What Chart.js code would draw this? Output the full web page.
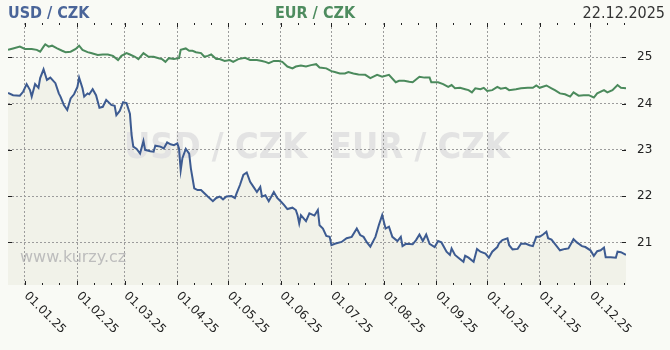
<!DOCTYPE html>
<html>
<head>
<meta charset="utf-8">
<script src="https://cdn.jsdelivr.net/npm/chart.js@4.4.0/dist/chart.umd.min.js"></script>
<style>
body{margin:0;background:#f9faf5;}
canvas{display:block;}
</style>
</head>
<body>
<canvas id="chart" width="670" height="350"></canvas>
<script>
// days counted from 1.1.2025
var usdDays = [-10,-7,-3,-1,1,3,4,6,8,9,
	11,13,15,18,20,21,23,25,27,29,
	31,32,34,35,37,38,40,42,44,46,
	48,51,53,54,56,58,60,62,63,64,
	66,68,70,71,74,76,77,80,82,84,
	86,88,90,91,92,93,95,97,98,100,
	102,104,106,108,111,113,115,117,119,122,
	124,125,127,129,131,133,135,137,139,140,
	142,144,147,149,151,153,155,158,160,161,
	162,163,166,168,171,173,174,176,178,180,
	181,183,187,190,193,196,198,200,202,204,
	206,207,209,211,213,215,217,220,222,223,
	225,229,231,233,234,235,237,239,242,244,
	246,249,251,252,254,256,259,260,262,265,
	267,269,272,274,276,279,280,282,285,286,
	288,291,293,296,298,300,302,304,306,308,
	309,311,313,316,319,321,324,326,329,331,
	334,336,338,340,342,343,346,349,350,352,
	355];
var usdRates = [24.23,24.18,24.17,24.26,24.42,24.29,24.15,24.42,24.34,24.55,
	24.74,24.51,24.56,24.44,24.22,24.15,23.97,23.86,24.11,24.20,
	24.36,24.56,24.33,24.15,24.22,24.20,24.31,24.18,23.91,23.93,
	24.08,23.97,23.95,23.75,23.84,24.03,24.01,23.78,23.32,23.07,
	23.02,22.92,23.19,23.00,22.97,22.96,23.09,23.07,23.03,23.16,
	23.12,23.10,23.14,23.03,22.56,22.82,23.02,22.92,22.60,22.17,
	22.13,22.13,22.06,21.99,21.89,21.96,21.99,21.93,21.99,22.00,
	21.96,22.06,22.24,22.46,22.51,22.31,22.20,22.09,22.20,21.99,
	22.02,21.89,22.09,21.96,21.89,21.81,21.72,21.75,21.70,21.59,
	21.41,21.59,21.46,21.63,21.58,21.70,21.37,21.30,21.14,21.12,
	20.94,20.97,21.01,21.09,21.12,21.30,21.16,21.12,21.00,20.91,
	21.05,21.12,21.37,21.59,21.30,21.34,21.12,21.03,21.12,20.92,
	20.97,20.96,21.05,21.17,21.10,21.03,21.17,20.97,20.90,21.03,
	21.00,20.80,20.73,20.87,20.73,20.67,20.58,20.71,20.67,20.58,
	20.86,20.80,20.76,20.67,20.80,20.90,20.98,21.05,21.09,20.94,
	20.85,20.86,20.97,20.97,20.94,20.92,21.12,21.12,21.17,21.23,
	21.09,21.06,20.97,20.83,20.86,20.87,21.07,21.00,20.92,20.90,
	20.83,20.71,20.81,20.83,20.89,20.68,20.68,20.67,20.80,20.79,
	20.73];

var eurDays = [-10,-7,-3,0,4,7,9,11,12,14,
	16,19,22,24,27,30,32,34,37,39,
	43,46,49,52,55,57,60,62,65,67,
	70,73,76,79,81,83,85,88,91,92,
	95,97,99,101,104,106,108,110,113,115,
	118,121,123,126,130,133,137,140,142,144,
	147,150,152,155,158,160,163,166,169,172,
	174,178,181,183,186,189,191,194,197,201,
	204,208,211,215,219,221,224,227,229,233,
	236,239,240,244,247,250,252,254,257,260,
	262,264,266,269,271,273,276,279,281,284,
	286,290,293,297,300,302,304,308,311,313,
	316,319,322,324,327,330,333,336,338,342,
	344,347,350,352,355];
var eurRates = [25.16,25.19,25.23,25.18,25.18,25.16,25.12,25.23,25.28,25.23,
	25.25,25.19,25.14,25.11,25.12,25.18,25.25,25.16,25.11,25.09,
	25.05,25.06,25.06,25.03,24.94,25.03,25.09,25.06,25.01,24.96,
	25.09,25.01,25.01,24.98,24.96,24.90,24.98,24.96,24.98,25.16,
	25.19,25.14,25.14,25.11,25.09,25.01,25.03,25.06,24.96,24.96,
	24.92,24.94,24.90,24.96,24.99,24.94,24.94,24.92,24.90,24.87,
	24.92,24.92,24.90,24.80,24.76,24.80,24.82,24.80,24.83,24.85,
	24.78,24.76,24.70,24.68,24.65,24.65,24.68,24.65,24.63,24.62,
	24.55,24.62,24.58,24.62,24.46,24.49,24.49,24.47,24.46,24.58,
	24.56,24.56,24.46,24.46,24.42,24.36,24.40,24.33,24.34,24.31,
	24.29,24.24,24.33,24.31,24.34,24.27,24.29,24.36,24.32,24.34,
	24.29,24.31,24.33,24.34,24.34,24.39,24.34,24.39,24.33,24.29,
	24.22,24.20,24.15,24.24,24.17,24.18,24.18,24.13,24.22,24.29,
	24.24,24.29,24.40,24.34,24.33];

var monthDays = [0,31,59,90,120,151,181,212,243,273,304,334];
var monthLabels = ['01.01.25','01.02.25','01.03.25','01.04.25','01.05.25','01.06.25',
	'01.07.25','01.08.25','01.09.25','01.10.25','01.11.25','01.12.25'];
var yTicks = [21,22,23,24,25];
var dateText = '22.12.2025';
var watermark = 'USD / CZK  EUR / CZK';

function toPoints(days, rates){
	var out = [];
	for(var i in days){
		out.push({x: days[i], y: rates[i]});
	}
	return out;
}

var deco = {
	id: 'deco',
	beforeDraw: function(chart){
		var ctx = chart.ctx, a = chart.chartArea;
		ctx.save();
		ctx.font = 'bold 36px "DejaVu Sans Condensed", "DejaVu Sans"';
		ctx.fillStyle = '#e3e3e3';
		ctx.textAlign = 'center';
		ctx.textBaseline = 'alphabetic';
		ctx.fillText(watermark, (a.left + a.right) / 2, 158);
		ctx.font = '16px "DejaVu Sans"';
		ctx.fillStyle = '#bdbdbd';
		ctx.textAlign = 'left';
		ctx.fillText('www.kurzy.cz', 20, 262);
		ctx.restore();
	},
	afterDraw: function(chart){
		var ctx = chart.ctx, a = chart.chartArea;
		var xs = chart.scales.x, ys = chart.scales.y;
		ctx.save();
		ctx.strokeStyle = '#222';
		ctx.lineWidth = 1;
		ctx.beginPath();
		for(var i = 0; i < monthDays.length; i++){
			for(var k = 0; k < 3; k++){
				var px = Math.round(xs.getPixelForValue(monthDays[i] + k * 10)) + 0.5;
				var len = k == 0 ? 4 : 2;
				ctx.moveTo(px, a.top); ctx.lineTo(px, a.top + len);
				ctx.moveTo(px, a.bottom); ctx.lineTo(px, a.bottom - len);
			}
		}
		for(var j = 0; j < yTicks.length; j++){
			var py = Math.round(ys.getPixelForValue(yTicks[j])) + 0.5;
			ctx.moveTo(a.left, py); ctx.lineTo(a.left + 4, py);
			ctx.moveTo(a.right, py); ctx.lineTo(a.right - 4, py);
		}
		ctx.stroke();

		ctx.font = '12px "DejaVu Sans"';
		ctx.fillStyle = '#222';
		ctx.textAlign = 'left';
		ctx.textBaseline = 'middle';
		for(var m = 0; m < monthDays.length; m++){
			var lx = xs.getPixelForValue(monthDays[m]);
			ctx.save();
			ctx.translate(lx + 1, 294);
			ctx.rotate(Math.PI / 4);
			ctx.fillText(monthLabels[m], 0, 0);
			ctx.restore();
		}

		ctx.textBaseline = 'alphabetic';
		ctx.font = 'bold 16px "DejaVu Sans Condensed", "DejaVu Sans"';
		ctx.fillStyle = '#4a6599';
		ctx.fillText('USD / CZK', 8, 18);
		ctx.fillStyle = '#4e8c5f';
		ctx.fillText('EUR / CZK', 275, 18);
		ctx.font = '16px "DejaVu Sans Condensed", "DejaVu Sans"';
		ctx.fillStyle = '#333';
		ctx.textAlign = 'right';
		ctx.fillText(dateText, 665, 18);
		ctx.restore();
	}
};

var chartdata = {
	datasets: [
		{
			label: 'EUR / CZK',
			data: toPoints(eurDays, eurRates),
			borderColor: '#4b8a5c',
			borderWidth: 2,
			pointRadius: 0,
			tension: 0,
			fill: false
		},
		{
			label: 'USD / CZK',
			data: toPoints(usdDays, usdRates),
			borderColor: '#3d5b91',
			backgroundColor: '#f1f2e9',
			borderWidth: 2,
			pointRadius: 0,
			tension: 0,
			fill: 'start'
		}
	]
};

var ctx = document.getElementById('chart').getContext('2d');
var lineGraph = new Chart(ctx, {
	type: 'line',
	data: chartdata,
	plugins: [deco],
	options: {
		responsive: false,
		animation: false,
		events: [],
		layout: {padding: {left: 8, top: 23, right: 0, bottom: 0}},
		plugins: {
			legend: {display: false},
			tooltip: {enabled: false},
			filler: {drawTime: 'beforeDraw'}
		},
		scales: {
			x: {
				type: 'linear',
				min: -10,
				max: 355,
				afterBuildTicks: function(scale){
					scale.ticks = monthDays.map(function(d){ return {value: d}; });
				},
				afterFit: function(scale){ scale.height = 65; },
				ticks: {display: false},
				grid: {color: '#9c9c9c', drawTicks: false},
				border: {display: false, dash: [2, 2]}
			},
			y: {
				position: 'right',
				min: 20.08,
				max: 25.74,
				afterBuildTicks: function(scale){
					scale.ticks = yTicks.map(function(v){ return {value: v}; });
				},
				afterFit: function(scale){ scale.width = 44; },
				ticks: {
					color: '#222',
					padding: 11,
					font: {family: 'DejaVu Sans', size: 12}
				},
				grid: {color: '#9c9c9c', drawTicks: false},
				border: {display: false, dash: [2, 2]}
			}
		}
	}
});
</script>
</body>
</html>
